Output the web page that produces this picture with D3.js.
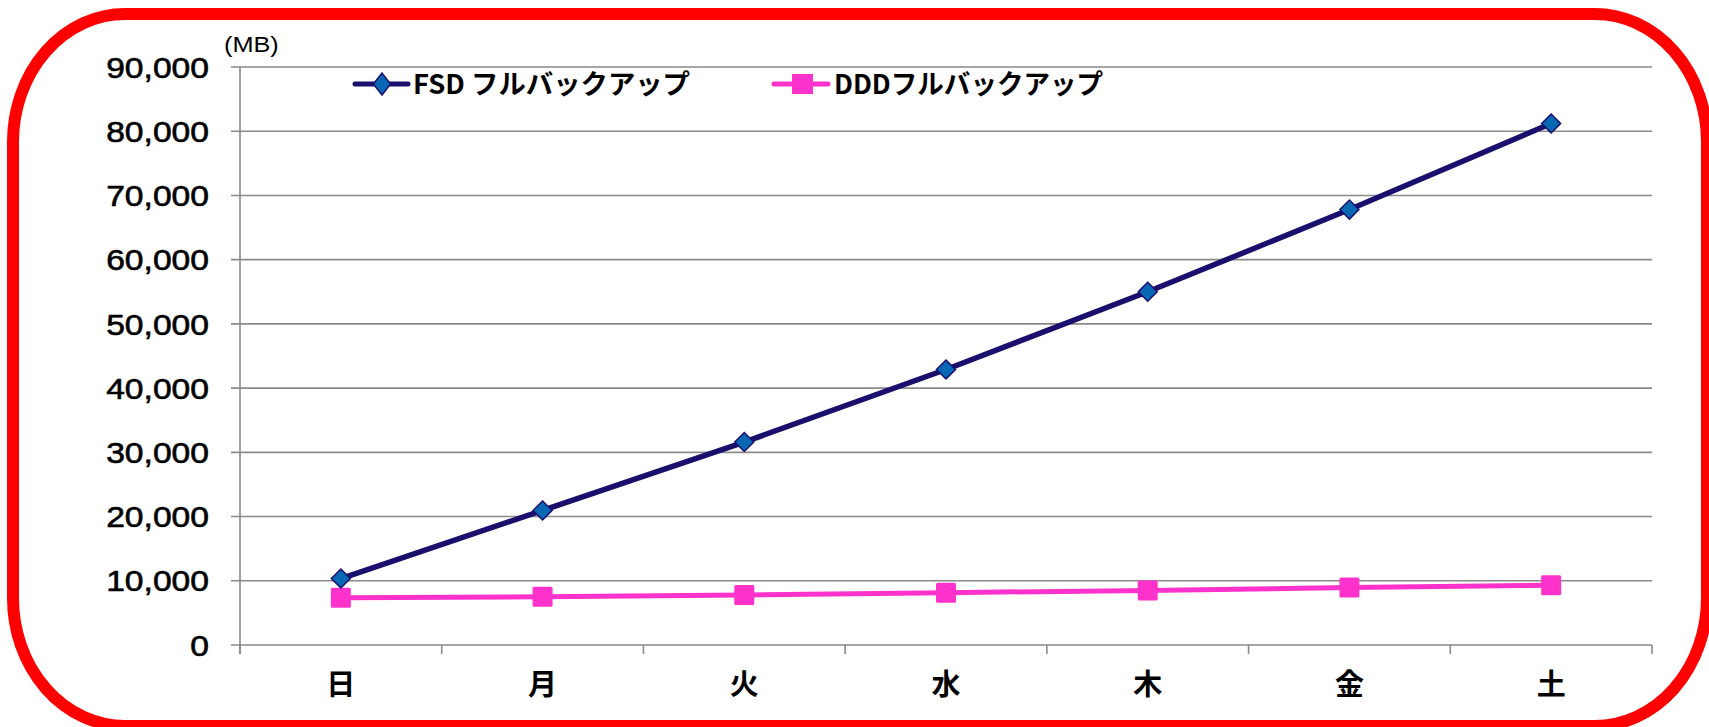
<!DOCTYPE html>
<html>
<head>
<meta charset="utf-8">
<script src="https://cdn.jsdelivr.net/npm/d3@7"></script>
<style>
  html, body { margin: 0; padding: 0; background: #fff; overflow: hidden; }
  svg { display: block; }
</style>
</head>
<body>
<svg id="chart" width="1709" height="727"></svg>
<script>
// Weekly full backup sizes (MB)
const days = ["日", "月", "火", "水", "木", "金", "土"];
const fsdValues = [10350, 20950, 31600, 42900, 55000, 67800, 81200];
const dddValues = [7350, 7500, 7800, 8150, 8500, 8950, 9300];
const seriesNames = ["FSD フルバックアップ", "DDDフルバックアップ"];
const yTicks = [0, 10000, 20000, 30000, 40000, 50000, 60000, 70000, 80000, 90000];
const unitLabel = "(MB)";

const svg = d3.select("#chart");
const plot = { left: 240, right: 1652, top: 67, bottom: 645 };

const navy = "#1b0f6e";
const blue = "#0868b4";
const pink = "#ff33cc";
const grid = "#8a8a8a";
const latin = "'Liberation Sans', Arial, sans-serif";
const cjk = "'Noto Sans CJK JP', sans-serif";

// Red rounded frame
svg.append("rect")
  .attr("x", 13).attr("y", 14)
  .attr("width", 1694).attr("height", 712)
  .attr("rx", 112).attr("ry", 128)
  .attr("fill", "none")
  .attr("stroke", "#ff0000")
  .attr("stroke-width", 12);

const x = d3.scaleBand().domain(days).range([plot.left, plot.right]).padding(0);
const y = d3.scaleLinear().domain([0, 90000]).range([plot.bottom, plot.top]);

// Horizontal gridlines with short outer ticks
svg.append("g")
  .selectAll("line")
  .data(yTicks)
  .join("line")
  .attr("x1", plot.left - 9).attr("x2", plot.right)
  .attr("y1", d => y(d)).attr("y2", d => y(d))
  .attr("stroke", grid).attr("stroke-width", 1.6);

// Vertical axis line
svg.append("line")
  .attr("x1", plot.left).attr("x2", plot.left)
  .attr("y1", plot.top).attr("y2", plot.bottom + 9)
  .attr("stroke", grid).attr("stroke-width", 1.6);

// Category boundary ticks below the baseline
const bounds = days.map(d => x(d)).concat([plot.right]);
svg.append("g")
  .selectAll("line")
  .data(bounds)
  .join("line")
  .attr("x1", d => d).attr("x2", d => d)
  .attr("y1", plot.bottom).attr("y2", plot.bottom + 9)
  .attr("stroke", grid).attr("stroke-width", 1.6);

// Y tick labels
const fmt = d3.format(",");
svg.append("g")
  .selectAll("text")
  .data(yTicks)
  .join("text")
  .attr("transform", d => `translate(${plot.left - 31},${y(d)}) scale(1.14,1)`)
  .attr("text-anchor", "end")
  .attr("dy", "0.36em")
  .attr("font-family", latin)
  .attr("font-size", 29.5)
  .attr("fill", "#000")
  .attr("stroke", "#000")
  .attr("stroke-width", 0.6)
  .text(d => fmt(d));

// Unit label
svg.append("text")
  .attr("transform", `translate(224,52) scale(1.15,1)`)
  .attr("font-family", latin)
  .attr("font-size", 22)
  .attr("fill", "#000")
  .text(unitLabel);

// X category labels
svg.append("g")
  .selectAll("text")
  .data(days)
  .join("text")
  .attr("x", d => x(d) + x.bandwidth() / 2)
  .attr("y", 685)
  .attr("dy", "0.36em")
  .attr("text-anchor", "middle")
  .attr("font-family", cjk)
  .attr("font-weight", "bold")
  .attr("font-size", 29)
  .attr("fill", "#000")
  .text(d => d);

const cx = d => x(d) + x.bandwidth() / 2;
const line = d3.line().x(d => cx(d.day)).y(d => y(d.value));
const fsd = days.map((d, i) => ({ day: d, value: fsdValues[i] }));
const ddd = days.map((d, i) => ({ day: d, value: dddValues[i] }));

// DDD series
svg.append("path")
  .datum(ddd)
  .attr("d", line)
  .attr("fill", "none")
  .attr("stroke", pink)
  .attr("stroke-width", 5);
svg.append("g")
  .selectAll("rect")
  .data(ddd)
  .join("rect")
  .attr("x", d => cx(d.day) - 10)
  .attr("y", d => y(d.value) - 10)
  .attr("width", 20).attr("height", 20)
  .attr("rx", 1.5)
  .attr("fill", pink);

// FSD series
svg.append("path")
  .datum(fsd)
  .attr("d", line)
  .attr("fill", "none")
  .attr("stroke", navy)
  .attr("stroke-width", 5.5);
const diamond = "M0,-9.5L9.5,0L0,9.5L-9.5,0Z";
svg.append("g")
  .selectAll("path")
  .data(fsd)
  .join("path")
  .attr("transform", d => `translate(${cx(d.day)},${y(d.value)})`)
  .attr("d", diamond)
  .attr("fill", blue)
  .attr("stroke", navy)
  .attr("stroke-width", 1.5);

// Legend
const legendY = 84;
const leg = svg.append("g");
// FSD entry
leg.append("line")
  .attr("x1", 355).attr("x2", 408).attr("y1", legendY).attr("y2", legendY)
  .attr("stroke", navy).attr("stroke-width", 5).attr("stroke-linecap", "round");
leg.append("path")
  .attr("transform", `translate(382,${legendY}) scale(0.9,1.15)`)
  .attr("d", diamond)
  .attr("fill", blue).attr("stroke", navy).attr("stroke-width", 1.5);
leg.append("text")
  .attr("x", 413).attr("y", legendY).attr("dy", "0.36em")
  .attr("font-family", cjk).attr("font-weight", "bold").attr("font-size", 27)
  .attr("textLength", 277).attr("lengthAdjust", "spacingAndGlyphs")
  .attr("fill", "#000")
  .text(seriesNames[0]);
// DDD entry
leg.append("line")
  .attr("x1", 774).attr("x2", 828).attr("y1", legendY).attr("y2", legendY)
  .attr("stroke", pink).attr("stroke-width", 5).attr("stroke-linecap", "round");
leg.append("rect")
  .attr("x", 792).attr("y", legendY - 10).attr("width", 21).attr("height", 20)
  .attr("fill", pink);
leg.append("text")
  .attr("x", 834).attr("y", legendY).attr("dy", "0.36em")
  .attr("font-family", cjk).attr("font-weight", "bold").attr("font-size", 27)
  .attr("textLength", 269).attr("lengthAdjust", "spacingAndGlyphs")
  .attr("fill", "#000")
  .text(seriesNames[1]);
</script>
</body>
</html>
